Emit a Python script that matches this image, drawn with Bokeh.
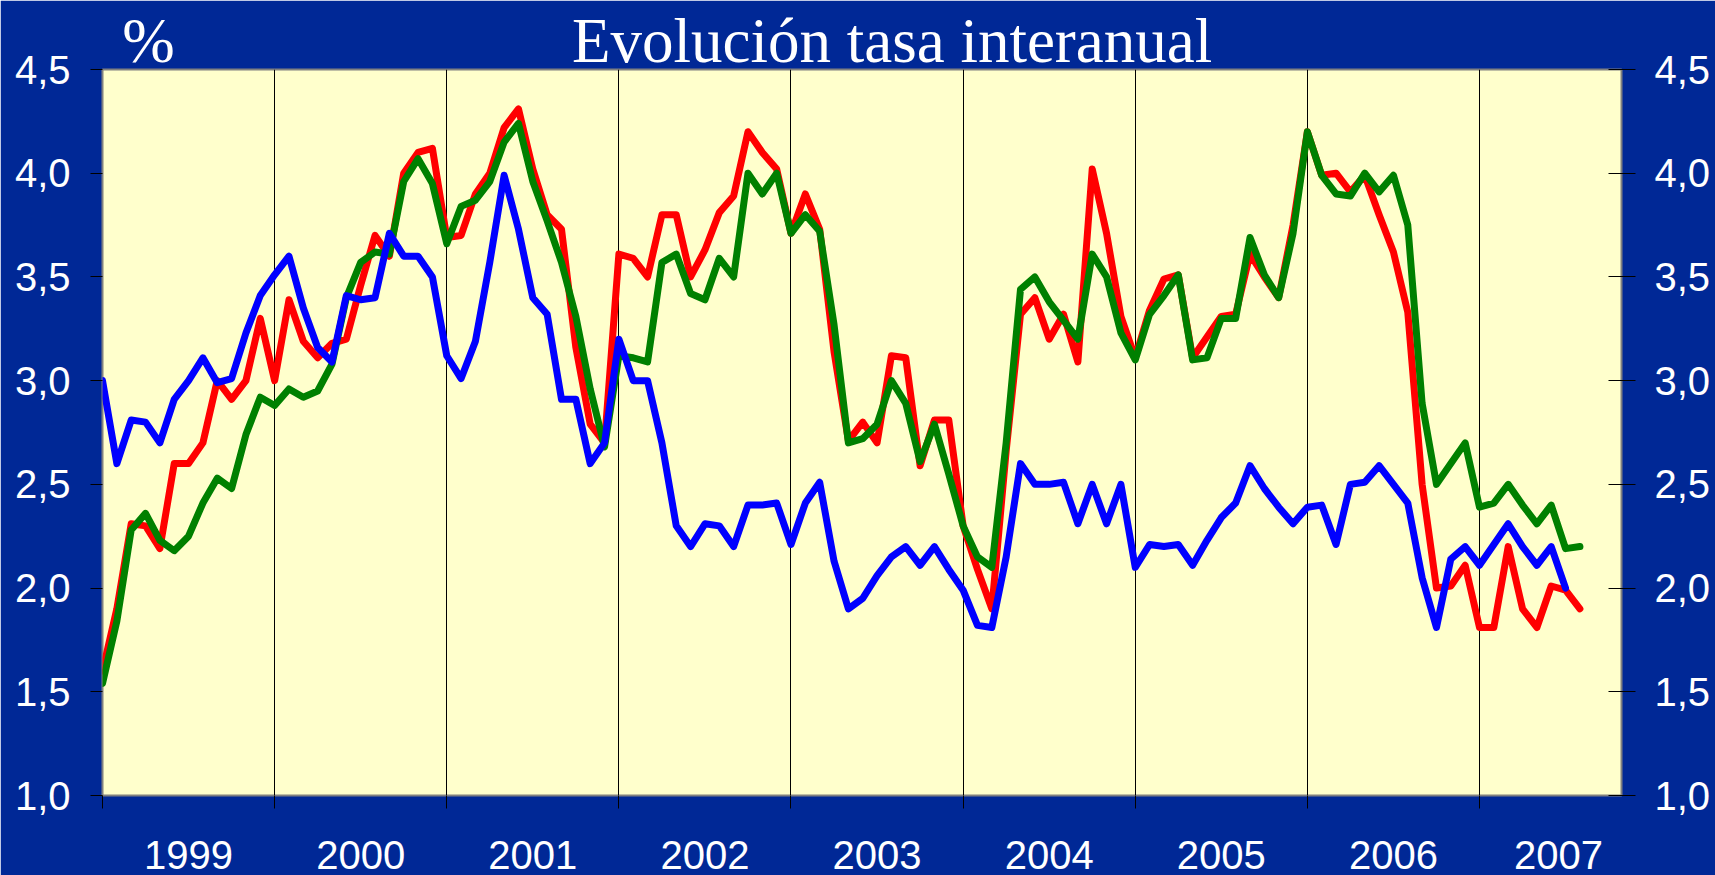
from bokeh.plotting import figure
from bokeh.models import (Range1d, LinearAxis, FixedTicker, CustomJSTickFormatter)
from bokeh.embed import file_html
from bokeh.resources import INLINE

# ---------------- data (monthly, Jan 1999 = month 0) ----------------
red = [1.60, 1.90, 2.31, 2.30, 2.19, 2.60, 2.60, 2.70, 3.00, 2.91, 3.00, 3.30,
       3.00, 3.39, 3.19, 3.11, 3.18, 3.20, 3.46, 3.70, 3.60, 4.00, 4.10, 4.12,
       3.69, 3.70, 3.90, 4.00, 4.22, 4.31, 4.02, 3.80, 3.73, 3.16, 2.79, 2.70,
       3.61, 3.59, 3.50, 3.80, 3.80, 3.50, 3.63, 3.81, 3.89, 4.20, 4.10, 4.02,
       3.71, 3.90, 3.73, 3.14, 2.71, 2.80, 2.70, 3.12, 3.11, 2.59, 2.81, 2.81,
       2.30, 2.09, 1.90, 2.66, 3.32, 3.40, 3.20, 3.32, 3.09, 4.02, 3.71, 3.31,
       3.11, 3.34, 3.49, 3.51, 3.11, 3.21, 3.31, 3.32, 3.61, 3.50, 3.40, 3.75,
       4.20, 3.99, 4.00, 3.91, 3.99, 3.80, 3.62, 3.33, 2.50, 2.00, 2.01, 2.11,
       1.81, 1.81, 2.20, 1.90, 1.81, 2.01, 1.99, 1.90]

green = [1.54, 1.84, 2.28, 2.36, 2.23, 2.18, 2.25, 2.41, 2.53, 2.48, 2.74, 2.92,
         2.88, 2.96, 2.92, 2.95, 3.08, 3.40, 3.57, 3.62, 3.61, 3.96, 4.07, 3.95,
         3.66, 3.84, 3.87, 3.96, 4.15, 4.24, 3.96, 3.77, 3.57, 3.31, 2.96, 2.68,
         3.12, 3.11, 3.09, 3.57, 3.61, 3.42, 3.39, 3.59, 3.50, 4.00, 3.90, 4.00,
         3.71, 3.80, 3.72, 3.27, 2.70, 2.72, 2.79, 3.00, 2.89, 2.61, 2.79, 2.55,
         2.30, 2.15, 2.10, 2.70, 3.44, 3.50, 3.38, 3.29, 3.20, 3.61, 3.50, 3.23,
         3.10, 3.32, 3.41, 3.51, 3.10, 3.11, 3.30, 3.30, 3.69, 3.51, 3.40, 3.71,
         4.20, 3.99, 3.90, 3.89, 4.00, 3.91, 3.99, 3.75, 2.89, 2.50, 2.60, 2.70,
         2.39, 2.41, 2.50, 2.40, 2.31, 2.40, 2.19, 2.20]

blue = [3.00, 2.60, 2.81, 2.80, 2.70, 2.91, 3.00, 3.11, 2.99, 3.01, 3.23, 3.41,
        3.51, 3.60, 3.35, 3.16, 3.09, 3.41, 3.39, 3.40, 3.71, 3.60, 3.60, 3.50,
        3.12, 3.01, 3.19, 3.57, 3.99, 3.73, 3.40, 3.32, 2.91, 2.91, 2.60, 2.70,
        3.20, 3.00, 3.00, 2.70, 2.30, 2.20, 2.31, 2.30, 2.20, 2.40, 2.40, 2.41,
        2.21, 2.41, 2.51, 2.13, 1.90, 1.95, 2.06, 2.15, 2.20, 2.11, 2.20, 2.09,
        1.99, 1.82, 1.81, 2.15, 2.60, 2.50, 2.50, 2.51, 2.31, 2.50, 2.31, 2.50,
        2.10, 2.21, 2.20, 2.21, 2.11, 2.23, 2.34, 2.41, 2.59, 2.48, 2.39, 2.31,
        2.39, 2.40, 2.21, 2.50, 2.51, 2.59, 2.50, 2.41, 2.05, 1.81, 2.14, 2.20,
        2.11, 2.21, 2.31, 2.20, 2.11, 2.20, 2.00]

years = ["1999", "2000", "2001", "2002", "2003", "2004", "2005", "2006", "2007"]
year_label_pos = [6, 18, 30, 42, 54, 66, 78, 90, 101.5]
year_bounds = [0, 12, 24, 36, 48, 60, 72, 84, 96]
y_ticks = [1.0, 1.5, 2.0, 2.5, 3.0, 3.5, 4.0, 4.5]

top_texts = ["%", "Evolución tasa interanual"]
top_text_pos = [3.2, 55.05]

months_red = list(range(len(red)))
months_green = list(range(len(green)))
months_blue = list(range(len(blue)))

BG = "#002896"
PLOT_BG = "#FFFFCC"

p = figure(width=1715, height=875,
           x_range=Range1d(0, 105.9), y_range=Range1d(1.0, 4.5),
           output_backend="svg", toolbar_location=None,
           background_fill_color=PLOT_BG, border_fill_color=BG,
           min_border_left=102, min_border_right=94,
           min_border_top=69, min_border_bottom=80)

p.outline_line_color = "#808080"
p.outline_line_width = 2

# grid: vertical black lines at year boundaries
p.xgrid.ticker = FixedTicker(ticks=year_bounds[1:])
p.xgrid.grid_line_color = "black"
p.xgrid.grid_line_width = 1
p.ygrid.grid_line_color = None

nearest_code = """
    let best = 0, bd = 1e9;
    for (let i = 0; i < pos.length; i++) { const d = Math.abs(pos[i] - tick); if (d < bd) { bd = d; best = i; } }
    return lab[best];
"""

# x axis: year labels centred, tick marks at year boundaries (minor ticks)
xa = p.xaxis[0]
xa.ticker = FixedTicker(ticks=year_label_pos, minor_ticks=year_bounds)
xa.formatter = CustomJSTickFormatter(args=dict(pos=year_label_pos, lab=years),
                                     code=nearest_code)
xa.major_tick_line_color = None
xa.major_tick_out = 0
xa.major_tick_in = 0
xa.minor_tick_line_color = "black"
xa.minor_tick_out = 13
xa.minor_tick_in = 0
xa.axis_line_color = None
xa.major_label_text_font = "Liberation Sans"
xa.major_label_text_font_size = "40px"
xa.major_label_text_color = "white"
xa.major_label_standoff = 32

# top strip: unit "%" and the chart title
ta = LinearAxis(ticker=FixedTicker(ticks=top_text_pos),
                formatter=CustomJSTickFormatter(args=dict(pos=top_text_pos, lab=top_texts),
                                                code=nearest_code))
ta.major_tick_line_color = None
ta.major_tick_out = 0
ta.major_tick_in = 0
ta.minor_tick_line_color = None
ta.axis_line_color = None
ta.major_label_text_font = "Liberation Serif"
ta.major_label_text_font_size = "63px"
ta.major_label_text_color = "white"
ta.major_label_standoff = -6
p.add_layout(ta, "above")

fmt_code = "return tick.toFixed(1).replace('.', ',');"

ya = p.yaxis[0]
ya.ticker = FixedTicker(ticks=y_ticks)
ya.formatter = CustomJSTickFormatter(code=fmt_code)
ya.major_tick_out = 12
ya.major_tick_in = 0
ya.major_tick_line_color = "black"
ya.minor_tick_line_color = None
ya.axis_line_color = None
ya.major_label_text_font = "Liberation Sans"
ya.major_label_text_font_size = "40px"
ya.major_label_text_color = "white"
ya.major_label_standoff = 20

yr = LinearAxis(ticker=FixedTicker(ticks=y_ticks),
                formatter=CustomJSTickFormatter(code=fmt_code))
yr.major_tick_out = 14
yr.major_tick_in = 13
yr.major_tick_line_color = "black"
yr.minor_tick_line_color = None
yr.axis_line_color = None
yr.major_label_text_font = "Liberation Sans"
yr.major_label_text_font_size = "40px"
yr.major_label_text_color = "white"
yr.major_label_standoff = 19
p.add_layout(yr, "right")

# series
p.line(months_red, red, line_color="#FF0000", line_width=7,
       line_join="round", line_cap="round")
p.line(months_green, green, line_color="#008000", line_width=7,
       line_join="round", line_cap="round")
p.line(months_blue, blue, line_color="#0000FF", line_width=7,
       line_join="round", line_cap="round")

open("out.html", "w").write(file_html(p, INLINE))
